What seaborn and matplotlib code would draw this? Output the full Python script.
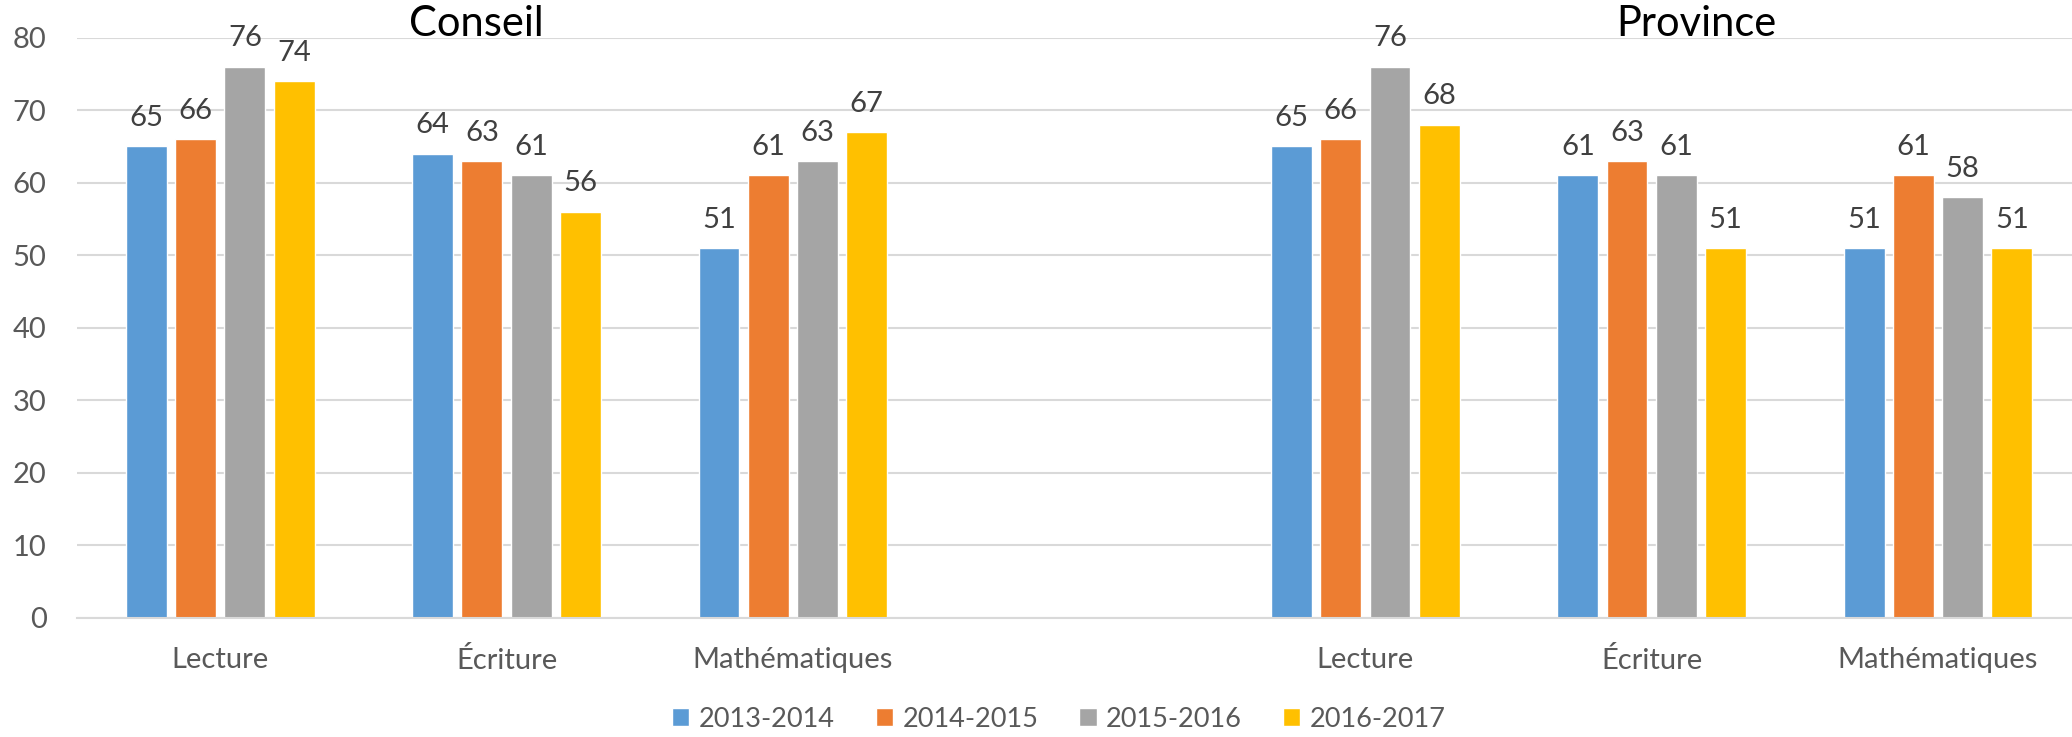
import matplotlib
matplotlib.use("Agg")
import matplotlib.pyplot as plt
import seaborn as sns
import pandas as pd

# ---- data ----
subjects = ["Lecture", "Écriture", "Mathématiques"]
years = ["2013-2014", "2014-2015", "2015-2016", "2016-2017"]
conseil_lecture = [65, 66, 76, 74]
conseil_ecriture = [64, 63, 61, 56]
conseil_maths = [51, 61, 63, 67]
province_lecture = [65, 66, 76, 68]
province_ecriture = [61, 63, 61, 51]
province_maths = [51, 61, 58, 51]
panel_titles = ["Conseil", "Province"]
colors = ["#5B9BD5", "#ED7D31", "#A5A5A5", "#FFC000"]

# slot keys: 3 Conseil categories, one empty spacer, 3 Province categories
slots = ["C-Lecture", "C-Écriture", "C-Mathématiques", "gap",
         "P-Lecture", "P-Écriture", "P-Mathématiques"]
slot_labels = subjects + [""] + subjects
series = {
    "C-Lecture": conseil_lecture, "C-Écriture": conseil_ecriture,
    "C-Mathématiques": conseil_maths,
    "P-Lecture": province_lecture, "P-Écriture": province_ecriture,
    "P-Mathématiques": province_maths,
}
rows = []
for slot, vals in series.items():
    for y, v in zip(years, vals):
        rows.append({"slot": slot, "year": y, "value": v})
df = pd.DataFrame(rows)

sns.set_theme(style="white")
plt.rcParams["font.family"] = ["Lato", "DejaVu Sans"]

fig = plt.figure(figsize=(20.72, 7.37), dpi=100)
ax = fig.add_axes([0.0372, 0.1615, 0.9672, 0.7875])

sns.barplot(data=df, x="slot", y="value", hue="year", order=slots,
            hue_order=years, palette=colors, width=0.688, gap=0.17,
            saturation=1, ax=ax, legend=True, errorbar=None)

for cont in ax.containers:
    ax.bar_label(cont, fmt="%d", padding=11, fontsize=21, color="#404040")

ax.set_ylim(0, 80)
ax.set_yticks(range(0, 81, 10))
ax.set_xlim(-0.5, len(slots) - 0.5)
ax.set_xticks(range(len(slots)))
ax.set_xticklabels(slot_labels)
ax.set_xlabel("")
ax.set_ylabel("")
ax.yaxis.grid(True, color="#D9D9D9", linewidth=1.5)
ax.set_axisbelow(True)
for s in ["left", "right", "top"]:
    ax.spines[s].set_visible(False)
ax.spines["bottom"].set_color("#D9D9D9")
ax.spines["bottom"].set_linewidth(1.5)
ax.tick_params(axis="y", labelsize=21, labelcolor="#595959", length=0, pad=22)
ax.tick_params(axis="x", labelsize=21, labelcolor="#595959", length=0, pad=21)

handles, labels = ax.get_legend_handles_labels()
ax.get_legend().remove()
leg = fig.legend(handles, labels, loc="center", bbox_to_anchor=(0.511, 0.024),
                 ncol=4, frameon=False, fontsize=19.5, handlelength=0.65,
                 handleheight=0.65, handletextpad=0.35, columnspacing=1.5)
for t in leg.get_texts():
    t.set_color("#595959")

fig.text(0.2297, 0.967, panel_titles[0], ha="center", va="center",
         fontsize=30, color="black")
fig.text(0.8185, 0.967, panel_titles[1], ha="center", va="center",
         fontsize=30, color="black")

fig.savefig("out.png", dpi=100)
